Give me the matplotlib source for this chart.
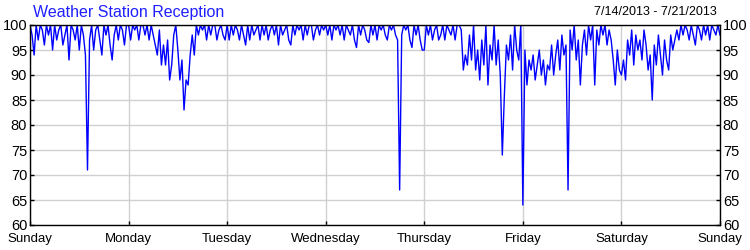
import numpy as np
import matplotlib
matplotlib.use("Agg")
import matplotlib.pyplot as plt

plt.rcParams['font.family'] = ['Liberation Sans', 'DejaVu Sans']

title = "Weather Station Reception"
date_range = "7/14/2013 - 7/21/2013"
day_labels = ["Sunday", "Monday", "Tuesday", "Wednesday", "Thursday", "Friday", "Saturday", "Sunday"]
y_ticks = [60, 65, 70, 75, 80, 85, 90, 95, 100]

# reception %, one reading every 30 minutes (48 per day)
sunday = [100, 98, 94, 100, 97, 100, 99, 96, 100, 98, 100, 95, 100, 97, 99, 100,
          96, 98, 100, 93, 100, 99, 97, 100, 95, 100, 98, 94, 71, 97, 100, 95,
          99, 100, 97, 94, 100, 98, 100, 96, 93, 98, 100, 97, 100, 99, 96, 100]
monday = [100, 97, 100, 99, 100, 97, 100, 100, 98, 100, 97, 100, 98, 96, 94, 99,
          92, 96, 92, 97, 89, 92, 98, 100, 95, 89, 93, 83, 89, 88, 94, 98,
          94, 100, 98, 100, 99, 100, 97, 100, 98, 100, 100, 97, 99, 100, 98, 97]
tuesday = [100, 97, 100, 98, 100, 99, 97, 100, 98, 96, 100, 97, 100, 98, 99, 100,
           97, 100, 98, 100, 97, 99, 100, 98, 100, 96, 100, 98, 99, 100, 97, 96,
           100, 98, 100, 99, 100, 97, 100, 98, 100, 100, 97, 99, 100, 98, 100, 99]
wednesday = [100, 98, 100, 97, 100, 99, 100, 98, 100, 97, 100, 99, 98, 100, 97, 95.5,
             100, 98, 100, 99, 97, 96.5, 100, 98, 100, 97, 100, 99, 100, 98, 97, 100,
             99, 100, 98, 97, 67, 98, 100, 99, 100, 97, 95.5, 100, 98, 100, 97, 95]
thursday = [95, 100, 98, 100, 97, 99, 100, 97, 98, 100, 97, 100, 99, 98, 100, 97,
            100, 100, 99, 91, 94, 92, 98, 93, 100, 91, 95, 89, 97, 92, 100, 88,
            96, 93, 100, 92, 97, 90, 74, 86, 96, 93, 98, 91, 100, 95, 93, 100]
friday = [64, 95, 88, 93, 91, 94, 89, 92, 95, 90, 93, 88, 92, 91, 96, 90,
          94, 97, 91, 98, 94, 96, 67, 99, 95, 100, 93, 97, 88, 96, 99, 94,
          100, 97, 100, 88, 99, 96, 100, 98, 100, 96, 99, 97, 93, 88, 95, 91]
saturday = [90, 93, 89, 97, 94, 99, 92, 98, 95, 97, 93, 99, 96, 91, 94, 85,
            96, 92, 98, 94, 90, 97, 93, 91, 98, 95, 97, 99, 97, 100, 98, 100,
            99, 97, 100, 98, 96, 100, 99, 97, 100, 98, 100, 97, 100, 99, 98, 100]
last_reading = [98]

values = sunday + monday + tuesday + wednesday + thursday + friday + saturday + last_reading
days = np.arange(len(values)) / 48.0

fig = plt.figure(figsize=(7.5, 2.5), dpi=100)
ax = fig.add_axes([0.04, 0.1, 0.92, 0.8])

ax.plot(days, values, color='#0000ff', linewidth=1.0)

ax.set_xlim(0, 7)
ax.set_ylim(60, 100)
ax.set_xticks(range(8))
ax.set_xticklabels(day_labels)
ax.set_yticks(y_ticks)
ax.grid(True, color='#d0d0d0', linewidth=1.0)
ax.set_axisbelow(True)
ax.tick_params(direction='in', length=3, width=1, colors='black',
               right=True, labelright=True)
ax.tick_params(axis='y', labelsize=10.5, pad=2)
ax.tick_params(axis='x', labelsize=9.5, pad=6)
for s in ax.spines.values():
    s.set_color('black')
    s.set_linewidth(1.0)

fig.text(0.044, 0.952, title, color='#1f1fff', fontsize=11.5, ha='left', va='center')
fig.text(0.956, 0.952, date_range, color='black', fontsize=9, ha='right', va='center')

fig.savefig("out.png", dpi=100)
